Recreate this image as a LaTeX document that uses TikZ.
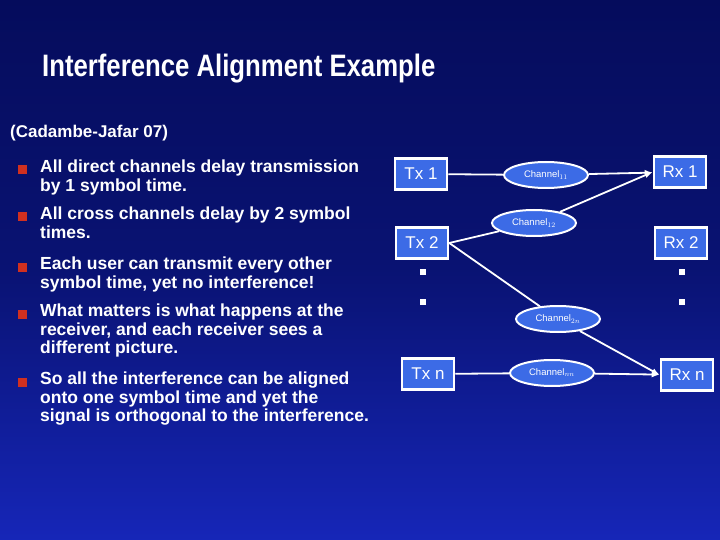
\documentclass[tikz,border=0pt]{standalone}
\usepackage{fontspec}
\setmainfont{Liberation Sans}
\usetikzlibrary{shapes.geometric,arrows.meta}
\definecolor{bgdark}{HTML}{050C5C}
\definecolor{bglight}{HTML}{1626B8}
\definecolor{boxblue}{HTML}{3C6BE6}
\definecolor{bulred}{HTML}{D03020}
\tikzset{
  box/.style={draw=white,line width=2.5pt,fill=boxblue,text=white,minimum width=52pt,minimum height=31pt,font=\fontsize{17}{17}\selectfont,inner sep=0pt},
  chan/.style={ellipse,draw=white,line width=2pt,fill=boxblue,text=white,minimum width=84pt,minimum height=26pt,font=\fontsize{9.5}{9.5}\selectfont,inner sep=0pt},
  link/.style={white,line width=1.8pt},
  arr/.style={link,-{Latex[length=8pt,width=6pt]}},
  dot/.style={fill=white,minimum size=6pt,inner sep=0pt},
  bul/.style={fill=bulred,minimum size=9pt,inner sep=0pt},
  btext/.style={anchor=north west,text=white,align=left,font=\bfseries\fontsize{17.5}{18.5}\selectfont,inner sep=0pt}
}
\begin{document}
\begin{tikzpicture}[x=1pt,y=-1pt]
\shade[top color=bgdark,bottom color=bglight,middle color=bgdark!75!bglight] (0,0) rectangle (720,540);
\useasboundingbox (0,0) rectangle (720,540);
\node[anchor=west,text=white,font=\bfseries\fontsize{31}{31}\selectfont,xscale=0.83,inner sep=0pt] (title) at (42,69) {Interference Alignment Example};
\node[anchor=west,text=white,font=\bfseries\fontsize{17}{17}\selectfont,inner sep=0pt] (ref) at (10,133) {(Cadambe-Jafar 07)};
\node[bul] (b1) at (22,170) {};
\node[btext] (t1) at (40,160) {All direct channels delay transmission\\by 1 symbol time.};
\node[bul] (b2) at (22,217) {};
\node[btext] (t2) at (40,207) {All cross channels delay by 2 symbol\\times.};
\node[bul] (b3) at (22,267) {};
\node[btext] (t3) at (40,257) {Each user can transmit every other\\symbol time, yet no interference!};
\node[bul] (b4) at (22,314) {};
\node[btext] (t4) at (40,304) {What matters is what happens at the\\receiver, and each receiver sees a\\different picture.};
\node[bul] (b5) at (22,382) {};
\node[btext] (t5) at (40,372) {So all the interference can be aligned\\onto one symbol time and yet the\\signal is orthogonal to the interference.};
\node[box] (tx1) at (421,174) {Tx 1};
\node[box] (tx2) at (422,243) {Tx 2};
\node[box] (txn) at (428,374) {Tx n};
\node[box] (rx1) at (680,172) {Rx 1};
\node[box] (rx2) at (681,243) {Rx 2};
\node[box] (rxn) at (687,375) {Rx n};
\node[dot] (d1) at (423,272) {};
\node[dot] (d2) at (423,302) {};
\node[dot] (d3) at (682,272) {};
\node[dot] (d4) at (682,302) {};
\node[chan] (c11) at (546,175) {Channel$_{11}$};
\node[chan] (c12) at (534,223) {Channel$_{12}$};
\node[chan] (c2n) at (558,319) {Channel$_{2n}$};
\node[chan] (cnn) at (552,373) {Channel$_{nn}$};
\draw[link] (tx1) -- (c11);
\draw[arr] (c11) -- (rx1);
\draw[link] (tx2.east) -- (c12);
\draw[arr] (c12) -- (rx1.west);
\draw[link] (tx2.east) -- (c2n);
\draw[arr] (c2n) -- (rxn.west);
\draw[link] (txn) -- (cnn);
\draw[arr] (cnn) -- (rxn);
\end{tikzpicture}
\end{document}
